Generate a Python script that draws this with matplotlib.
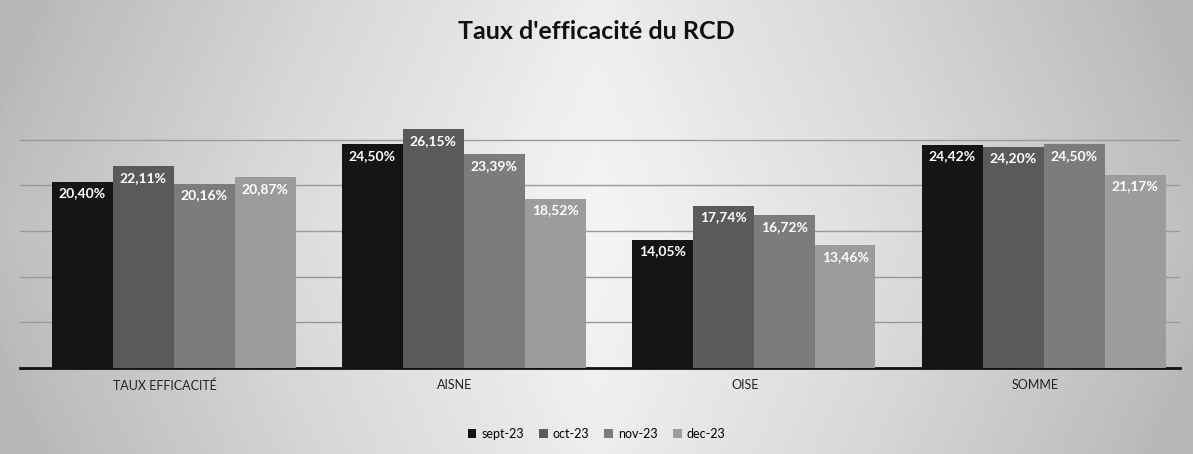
import matplotlib.pyplot as plt
import numpy as np

plt.rcParams['font.family'] = ['Lato', 'DejaVu Sans']

categories = ["TAUX EFFICACITÉ", "AISNE", "OISE", "SOMME"]
months = ["sept-23", "oct-23", "nov-23", "dec-23"]
sept = [20.40, 24.50, 14.05, 24.42]
octo = [22.11, 26.15, 17.74, 24.20]
nov = [20.16, 23.39, 16.72, 24.50]
dec = [20.87, 18.52, 13.46, 21.17]
series = [sept, octo, nov, dec]
colors = ["#151515", "#5a5a5a", "#7c7c7c", "#9c9c9c"]

fig = plt.figure(figsize=(11.93, 4.54), dpi=100)

# fond gris façon scan, plus clair au centre
bg = fig.add_axes([0, 0, 1, 1], zorder=-10)
xx, yy = np.meshgrid(np.linspace(-1, 1, 300), np.linspace(-1, 1, 120))
grad = np.clip(np.abs(xx) * 0.9 + np.abs(yy) * 0.15, 0, 1)
bg.imshow(grad, cmap="Greys", vmin=-0.3, vmax=3.0, aspect="auto", extent=[0, 1, 0, 1])
bg.axis("off")

ax = fig.add_axes([20 / 1193, 0.189, 1160 / 1193, 0.604])
ax.set_facecolor("none")

x = np.arange(len(categories))
w = 0.21
for i, (vals, c, m) in enumerate(zip(series, colors, months)):
    pos = x + 0.03 + (i - 1.5) * w
    bars = ax.bar(pos, vals, w, color=c, label=m, zorder=3)
    for b, v in zip(bars, vals):
        ax.text(b.get_x() + b.get_width() / 2, v - 0.6, ("%.2f%%" % v).replace(".", ","),
                ha="center", va="top", color="white", fontsize=10, fontweight="bold", zorder=4)

ax.set_xlim(-0.5, 3.5)
ax.set_ylim(0, 30)
ax.set_yticks([5, 10, 15, 20, 25])
ax.yaxis.grid(True, color="#9a9a9a", linewidth=1, zorder=0)
ax.tick_params(axis="y", length=0, labelleft=False)
ax.tick_params(axis="x", length=0, pad=8)
ax.set_xticks(x)
ax.set_xticklabels(categories, fontsize=9, color="#222222")
for s in ["top", "right", "left"]:
    ax.spines[s].set_visible(False)
ax.spines["bottom"].set_linewidth(2)
ax.spines["bottom"].set_color("#111111")

fig.text(0.5, 0.93, "Taux d'efficacité du RCD", ha="center", va="center",
         fontsize=18, fontweight="bold", color="#111111")

fig.legend(loc="center", bbox_to_anchor=(0.5, 0.045), ncol=4, frameon=False,
           fontsize=9, handlelength=0.7, handleheight=0.7, columnspacing=1.2, handletextpad=0.4)

fig.savefig("out.png", dpi=100)
